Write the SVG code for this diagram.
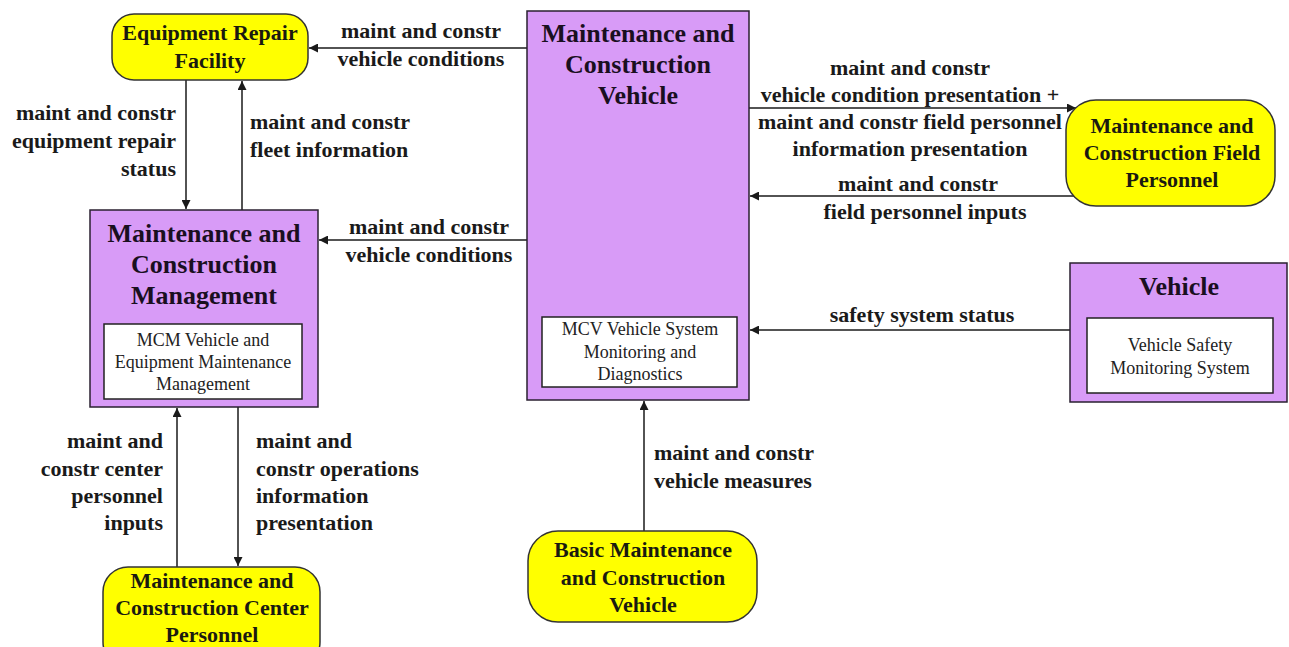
<svg xmlns="http://www.w3.org/2000/svg" width="1289" height="647" viewBox="0 0 1289 647">
<style>
.bg{fill:#ffffff}
.purple{fill:#D89BF7;stroke:#2a2030;stroke-width:1.5}
.yellow{fill:#FFFF00;stroke:#333;stroke-width:1.5}
.inner{fill:#ffffff;stroke:#222;stroke-width:1.5}
.title{font-family:"Liberation Serif",serif;font-weight:bold;font-size:26px;fill:#1a0f1f;text-anchor:middle}
.ytext{font-family:"Liberation Serif",serif;font-weight:bold;font-size:22px;fill:#1a1a10;text-anchor:middle}
.itext{font-family:"Liberation Serif",serif;font-size:18px;fill:#222;text-anchor:middle}
.lbl{font-family:"Liberation Serif",serif;font-weight:bold;font-size:22px;fill:#1a1a1a}
.mid{text-anchor:middle}
.end{text-anchor:end}
.conn{stroke:#1a1a1a;stroke-width:1.5;fill:none;marker-end:url(#ah)}
</style>
<defs>
<marker id="ah" viewBox="0 0 10 10" refX="10" refY="5" markerWidth="9" markerHeight="9" markerUnits="userSpaceOnUse" orient="auto">
<path d="M0,0 L10,5 L0,10 z" fill="#1a1a1a"/>
</marker>
</defs>
<rect class="bg" x="0" y="0" width="1289" height="647"/>

<g id="connectors">
<line class="conn" x1="527" y1="48" x2="309" y2="48"/>
<line class="conn" x1="186" y1="80" x2="186" y2="209"/>
<line class="conn" x1="242" y1="210" x2="242" y2="81"/>
<line class="conn" x1="527" y1="240" x2="319" y2="240"/>
<line class="conn" x1="177" y1="567" x2="177" y2="408"/>
<line class="conn" x1="238" y1="407" x2="238" y2="566"/>
<line class="conn" x1="749" y1="108" x2="1076" y2="108"/>
<line class="conn" x1="1076" y1="196" x2="750" y2="196"/>
<line class="conn" x1="1070" y1="330" x2="750" y2="330"/>
<line class="conn" x1="644" y1="531" x2="644" y2="401"/>

<g id="labels">
<text class="lbl mid" x="421" y="38">maint and constr</text>
<text class="lbl mid" x="421" y="66">vehicle conditions</text>
<text class="lbl end" x="176" y="120">maint and constr</text>
<text class="lbl end" x="176" y="148">equipment repair</text>
<text class="lbl end" x="176" y="176">status</text>
<text class="lbl" x="250" y="129">maint and constr</text>
<text class="lbl" x="250" y="157">fleet information</text>
<text class="lbl mid" x="429" y="234">maint and constr</text>
<text class="lbl mid" x="429" y="262">vehicle conditions</text>
<text class="lbl end" x="163" y="448">maint and</text>
<text class="lbl end" x="163" y="476">constr center</text>
<text class="lbl end" x="163" y="503">personnel</text>
<text class="lbl end" x="163" y="530">inputs</text>
<text class="lbl" x="256" y="448">maint and</text>
<text class="lbl" x="256" y="476">constr operations</text>
<text class="lbl" x="256" y="503">information</text>
<text class="lbl" x="256" y="530">presentation</text>
<text class="lbl mid" x="910" y="75">maint and constr</text>
<text class="lbl mid" x="910" y="102">vehicle condition presentation +</text>
<text class="lbl mid" x="910" y="129">maint and constr field personnel</text>
<text class="lbl mid" x="910" y="156">information presentation</text>
<text class="lbl mid" x="918" y="191">maint and constr</text>
<text class="lbl mid" x="925" y="219">field personnel inputs</text>
<text class="lbl mid" x="922" y="322">safety system status</text>
<text class="lbl" x="654" y="460">maint and constr</text>
<text class="lbl" x="654" y="488">vehicle measures</text>
</g>
</g>

<g id="erf">
<rect class="yellow" x="112" y="14" width="196" height="66" rx="22" ry="22"/>
<text class="ytext" x="210" y="40">Equipment Repair</text>
<text class="ytext" x="210" y="68">Facility</text>
</g>

<g id="mcv">
<rect class="purple" x="527" y="11" width="222" height="389"/>
<text class="title" x="638" y="42">Maintenance and</text>
<text class="title" x="638" y="73">Construction</text>
<text class="title" x="638" y="104">Vehicle</text>
<rect class="inner" x="542" y="317" width="195" height="70"/>
<text class="itext" x="640" y="335">MCV Vehicle System</text>
<text class="itext" x="640" y="358">Monitoring and</text>
<text class="itext" x="640" y="380">Diagnostics</text>
</g>

<g id="mcm">
<rect class="purple" x="90" y="210" width="228" height="197"/>
<text class="title" x="204" y="242">Maintenance and</text>
<text class="title" x="204" y="273">Construction</text>
<text class="title" x="204" y="304">Management</text>
<rect class="inner" x="104" y="324" width="198" height="75"/>
<text class="itext" x="203" y="346">MCM Vehicle and</text>
<text class="itext" x="203" y="368">Equipment Maintenance</text>
<text class="itext" x="203" y="390">Management</text>
</g>

<g id="fp">
<rect class="yellow" x="1066" y="100" width="209" height="106" rx="30" ry="30"/>
<text class="ytext" x="1172" y="133">Maintenance and</text>
<text class="ytext" x="1172" y="160">Construction Field</text>
<text class="ytext" x="1172" y="187">Personnel</text>
</g>

<g id="vehicle">
<rect class="purple" x="1070" y="263" width="217" height="139"/>
<text class="title" x="1179" y="295">Vehicle</text>
<rect class="inner" x="1087" y="318" width="186" height="75"/>
<text class="itext" x="1180" y="351">Vehicle Safety</text>
<text class="itext" x="1180" y="374">Monitoring System</text>
</g>

<g id="cp">
<rect class="yellow" x="103" y="567" width="217" height="100" rx="25" ry="25"/>
<text class="ytext" x="212" y="588">Maintenance and</text>
<text class="ytext" x="212" y="615">Construction Center</text>
<text class="ytext" x="212" y="642">Personnel</text>
</g>

<g id="bmcv">
<rect class="yellow" x="528" y="531" width="229" height="91" rx="30" ry="30"/>
<text class="ytext" x="643" y="557">Basic Maintenance</text>
<text class="ytext" x="643" y="585">and Construction</text>
<text class="ytext" x="643" y="612">Vehicle</text>
</g>
</svg>
